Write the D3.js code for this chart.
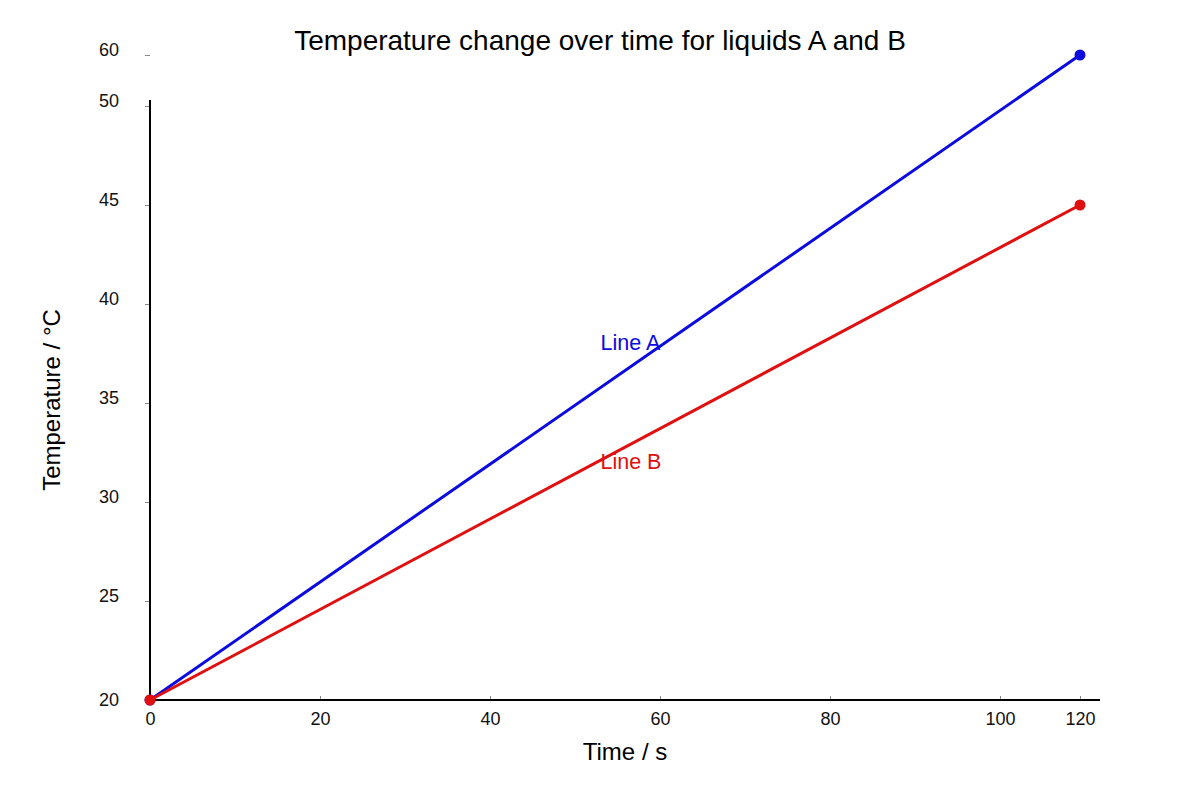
<!DOCTYPE html>
<html>
<head>
<meta charset="utf-8">
<script src="https://cdn.jsdelivr.net/npm/d3@7"></script>
<style>
  body { margin: 0; background: #fff; }
  text { font-family: "Liberation Sans", Arial, sans-serif; }
</style>
</head>
<body>
<svg id="chart" width="1200" height="800"></svg>
<script>
// data
var timeValues = [0, 120];
var lineA = [20, 60];
var lineB = [20, 45];
var xTicks = [0, 20, 40, 60, 80, 100, 120];
var yTicks = [20, 25, 30, 35, 40, 45, 50, 60];
var lineLabels = [
  { name: "Line A", t: 53, temp: 38, color: "#0b0bdf" },
  { name: "Line B", t: 53, temp: 32, color: "#e01010" }
];

var svg = d3.select("#chart");

// the axes are not linear all the way: the last interval is squeezed
var x = d3.scaleLinear().domain([0, 100, 120]).range([150, 1000, 1080]);
var y = d3.scaleLinear().domain([20, 50, 60]).range([700, 106, 55]);

// title
svg.append("text")
  .attr("x", 600).attr("y", 50)
  .attr("text-anchor", "middle")
  .style("font-size", "28px")
  .text("Temperature change over time for liquids A and B");

// x axis
var xAxis = svg.append("g")
  .attr("transform", "translate(0,700)")
  .call(d3.axisBottom(x).tickValues(xTicks).tickSize(0).tickPadding(0).tickSizeOuter(0));
xAxis.select(".domain").remove();
xAxis.append("line")
  .attr("x1", 150).attr("x2", 1100)
  .attr("stroke", "#000").attr("stroke-width", 2);
xAxis.selectAll(".tick line")
  .attr("y1", 0).attr("y2", -4)
  .attr("stroke", "#888");
xAxis.selectAll(".tick text")
  .attr("y", 19).attr("dy", "0.35em")
  .style("font-size", "18px").attr("fill", "#111");

// y axis
var yAxis = svg.append("g")
  .attr("transform", "translate(150,0)")
  .call(d3.axisLeft(y).tickValues(yTicks).tickSize(0).tickPadding(0));
yAxis.select(".domain").remove();
yAxis.append("line")
  .attr("y1", 100).attr("y2", 700)
  .attr("stroke", "#000").attr("stroke-width", 2);
yAxis.selectAll(".tick line")
  .attr("x1", -5).attr("x2", 0)
  .attr("stroke", "#888");
yAxis.selectAll(".tick text")
  .attr("x", -31).attr("dy", "0")
  .style("font-size", "18px").attr("fill", "#111");
// 20 label sits level with the x axis line
yAxis.selectAll(".tick").filter(function (d) { return d === 20; })
  .select("text").attr("dy", "0.3em");

// axis titles
svg.append("text")
  .attr("x", 625).attr("y", 760)
  .attr("text-anchor", "middle")
  .style("font-size", "24px")
  .text("Time / s");

svg.append("text")
  .attr("transform", "translate(60,400) rotate(-90)")
  .attr("text-anchor", "middle")
  .style("font-size", "24px")
  .text("Temperature / °C");

// lines and end points
var series = [
  { values: lineA, color: "#0b0bdf" },
  { values: lineB, color: "#e01010" }
];

var line = d3.line()
  .x(function (d) { return x(d.t); })
  .y(function (d) { return y(d.v); });

series.forEach(function (s) {
  var pts = timeValues.map(function (t, i) { return { t: t, v: s.values[i] }; });
  svg.append("path")
    .datum(pts)
    .attr("d", line)
    .attr("fill", "none")
    .attr("stroke", s.color)
    .attr("stroke-width", 3);
  svg.selectAll(null)
    .data(pts)
    .enter().append("circle")
    .attr("cx", function (d) { return x(d.t); })
    .attr("cy", function (d) { return y(d.v); })
    .attr("r", 5.5)
    .attr("fill", s.color);
});

// line labels
svg.selectAll(".line-label")
  .data(lineLabels)
  .enter().append("text")
  .attr("class", "line-label")
  .attr("x", function (d) { return x(d.t); })
  .attr("y", function (d) { return y(d.temp); })
  .attr("dy", "0.3em")
  .style("font-size", "21.5px")
  .attr("fill", function (d) { return d.color; })
  .text(function (d) { return d.name; });
</script>
</body>
</html>
